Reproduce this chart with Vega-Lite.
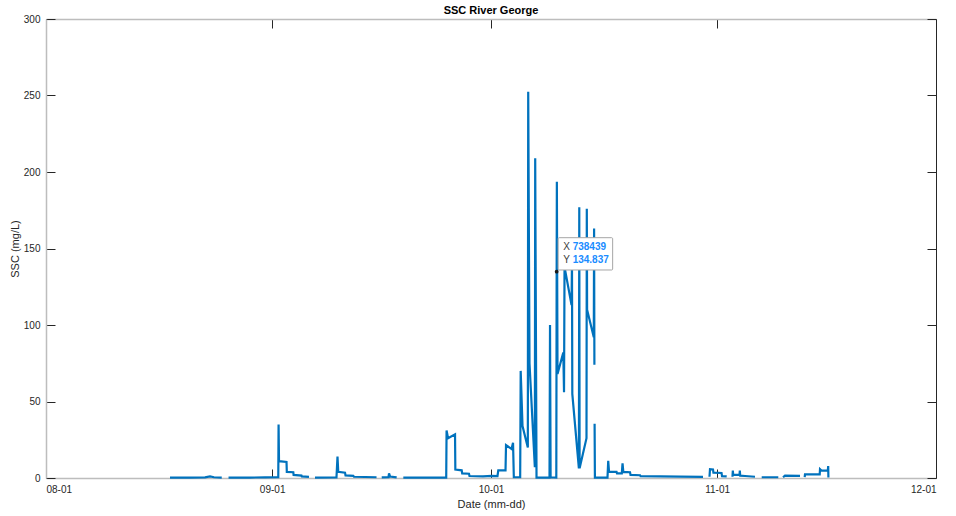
{
  "$schema": "https://vega.github.io/schema/vega-lite/v6.json",
  "width": 890,
  "height": 459,
  "autosize": "none",
  "padding": {"left": 46, "top": 19, "right": 20, "bottom": 38},
  "background": "white",
  "title": {"text": "SSC River George", "font": "Liberation Sans", "fontSize": 11, "fontWeight": "bold", "color": "#000000", "offset": -2},
  "config": {
    "view": {"stroke": null},
    "axis": {
      "labelFont": "Liberation Sans", "titleFont": "Liberation Sans",
      "labelFontSize": 10, "titleFontSize": 11, "titleFontWeight": "normal",
      "labelColor": "#262626", "titleColor": "#262626",
      "grid": false, "tickColor": "#262626", "tickSize": -9,
      "domainColor": "#bdbdbd", "domainWidth": 1.5
    }
  },
  "datasets": {
    "ssc": [
      {"t": "2021-08-18T00:00", "v": 0.2},
      {"t": "2021-08-20T17:45", "v": 0.3},
      {"t": "2021-08-22T19:10", "v": 0.4},
      {"t": "2021-08-23T11:35", "v": 1.0},
      {"t": "2021-08-24T00:45", "v": 0.5},
      {"t": "2021-08-25T02:10", "v": 0.3},
      {"t": "2021-08-25T12:00", "v": null},
      {"t": "2021-08-26T00:30", "v": 0.2},
      {"t": "2021-08-28T23:05", "v": 0.3},
      {"t": "2021-08-31T00:30", "v": 0.4},
      {"t": "2021-09-01T20:10", "v": 0.5},
      {"t": "2021-09-01T21:10", "v": 35},
      {"t": "2021-09-01T22:35", "v": 11},
      {"t": "2021-09-02T23:15", "v": 10.5},
      {"t": "2021-09-03T00:15", "v": 4},
      {"t": "2021-09-03T21:35", "v": 3.8},
      {"t": "2021-09-03T22:35", "v": 2},
      {"t": "2021-09-05T00:30", "v": 1.6},
      {"t": "2021-09-05T01:35", "v": 1.0},
      {"t": "2021-09-06T01:10", "v": 0.8},
      {"t": "2021-09-06T10:00", "v": null},
      {"t": "2021-09-06T20:55", "v": 0.3},
      {"t": "2021-09-09T19:40", "v": 0.4},
      {"t": "2021-09-09T23:00", "v": 14},
      {"t": "2021-09-10T01:25", "v": 4},
      {"t": "2021-09-10T23:45", "v": 3.5},
      {"t": "2021-09-11T01:25", "v": 1.7},
      {"t": "2021-09-12T03:05", "v": 1.4},
      {"t": "2021-09-12T05:15", "v": 0.8},
      {"t": "2021-09-15T07:25", "v": 0.5},
      {"t": "2021-09-15T16:00", "v": null},
      {"t": "2021-09-16T00:30", "v": 0.4},
      {"t": "2021-09-16T22:50", "v": 0.5},
      {"t": "2021-09-17T00:30", "v": 3},
      {"t": "2021-09-17T03:50", "v": 1.0},
      {"t": "2021-09-18T01:40", "v": 0.4},
      {"t": "2021-09-18T12:00", "v": null},
      {"t": "2021-09-18T23:30", "v": 0.3},
      {"t": "2021-09-24T20:40", "v": 0.3},
      {"t": "2021-09-24T21:50", "v": 31},
      {"t": "2021-09-25T02:40", "v": 26},
      {"t": "2021-09-26T01:40", "v": 28.5},
      {"t": "2021-09-26T02:40", "v": 5.5},
      {"t": "2021-09-26T23:35", "v": 5},
      {"t": "2021-09-27T01:15", "v": 3},
      {"t": "2021-09-27T23:35", "v": 2.8},
      {"t": "2021-09-28T01:15", "v": 1.3},
      {"t": "2021-09-29T21:40", "v": 1.1},
      {"t": "2021-10-01T02:25", "v": 1.4},
      {"t": "2021-10-01T21:20", "v": 1.3},
      {"t": "2021-10-02T00:00", "v": 5},
      {"t": "2021-10-02T23:45", "v": 5},
      {"t": "2021-10-03T01:25", "v": 21.5},
      {"t": "2021-10-03T19:25", "v": 19},
      {"t": "2021-10-04T00:30", "v": 23},
      {"t": "2021-10-04T03:05", "v": 0.5},
      {"t": "2021-10-05T00:00", "v": 0.5},
      {"t": "2021-10-05T01:40", "v": 70},
      {"t": "2021-10-05T07:40", "v": 34},
      {"t": "2021-10-06T01:10", "v": 20},
      {"t": "2021-10-06T02:25", "v": 252.5},
      {"t": "2021-10-06T06:40", "v": 75},
      {"t": "2021-10-07T00:15", "v": 7},
      {"t": "2021-10-07T01:25", "v": 209},
      {"t": "2021-10-07T05:45", "v": 0.3},
      {"t": "2021-10-09T00:30", "v": 0.3},
      {"t": "2021-10-09T02:10", "v": 100},
      {"t": "2021-10-09T04:05", "v": 0.5},
      {"t": "2021-10-09T22:50", "v": 0.3},
      {"t": "2021-10-10T00:00", "v": 134.837},
      {"t": "2021-10-10T00:40", "v": 193.7},
      {"t": "2021-10-10T02:50", "v": 68},
      {"t": "2021-10-10T21:50", "v": 82},
      {"t": "2021-10-11T00:15", "v": 56},
      {"t": "2021-10-11T01:55", "v": 138},
      {"t": "2021-10-12T01:00", "v": 113},
      {"t": "2021-10-12T02:25", "v": 142},
      {"t": "2021-10-12T03:30", "v": 55},
      {"t": "2021-10-13T01:10", "v": 6.3},
      {"t": "2021-10-13T02:25", "v": 177},
      {"t": "2021-10-13T03:30", "v": 6.3},
      {"t": "2021-10-14T02:10", "v": 26},
      {"t": "2021-10-14T03:10", "v": 176},
      {"t": "2021-10-14T04:10", "v": 110},
      {"t": "2021-10-15T02:10", "v": 92},
      {"t": "2021-10-15T03:10", "v": 163},
      {"t": "2021-10-15T04:10", "v": 74},
      {"t": "2021-10-15T04:30", "v": null},
      {"t": "2021-10-15T04:50", "v": 35.5},
      {"t": "2021-10-15T05:50", "v": 0.3},
      {"t": "2021-10-16T23:15", "v": 0.3},
      {"t": "2021-10-17T01:40", "v": 11.3},
      {"t": "2021-10-17T04:20", "v": 4.1},
      {"t": "2021-10-18T05:00", "v": 4.0},
      {"t": "2021-10-18T06:30", "v": 3},
      {"t": "2021-10-18T22:20", "v": 3},
      {"t": "2021-10-19T00:45", "v": 9.6},
      {"t": "2021-10-19T03:20", "v": 4},
      {"t": "2021-10-20T01:25", "v": 3.8},
      {"t": "2021-10-20T03:00", "v": 2},
      {"t": "2021-10-21T10:20", "v": 1.8},
      {"t": "2021-10-21T12:00", "v": 1.2},
      {"t": "2021-10-24T04:05", "v": 1.0},
      {"t": "2021-10-26T21:50", "v": 0.9},
      {"t": "2021-10-30T01:25", "v": 0.8},
      {"t": "2021-10-30T12:00", "v": null},
      {"t": "2021-10-30T22:50", "v": 0.8},
      {"t": "2021-10-31T00:30", "v": 5.7},
      {"t": "2021-10-31T10:20", "v": 5.5},
      {"t": "2021-10-31T11:45", "v": 3.5},
      {"t": "2021-11-01T14:25", "v": 3.3},
      {"t": "2021-11-01T16:05", "v": 1.2},
      {"t": "2021-11-02T07:25", "v": 1.0},
      {"t": "2021-11-02T20:00", "v": null},
      {"t": "2021-11-03T02:25", "v": 0.8},
      {"t": "2021-11-03T03:35", "v": 4.8},
      {"t": "2021-11-03T04:50", "v": 2},
      {"t": "2021-11-04T01:40", "v": 2},
      {"t": "2021-11-04T02:35", "v": 4.8},
      {"t": "2021-11-04T03:50", "v": 1.5},
      {"t": "2021-11-04T19:40", "v": 1.3},
      {"t": "2021-11-06T04:35", "v": 0.8},
      {"t": "2021-11-06T12:00", "v": null},
      {"t": "2021-11-07T02:35", "v": 0.5},
      {"t": "2021-11-09T09:10", "v": 0.5},
      {"t": "2021-11-09T18:00", "v": null},
      {"t": "2021-11-10T00:45", "v": 0.5},
      {"t": "2021-11-10T07:10", "v": 1.6},
      {"t": "2021-11-12T08:40", "v": 1.4},
      {"t": "2021-11-12T18:00", "v": null},
      {"t": "2021-11-13T00:00", "v": 0.5},
      {"t": "2021-11-13T01:00", "v": 2.4},
      {"t": "2021-11-15T01:25", "v": 2.4},
      {"t": "2021-11-15T02:25", "v": 5.7},
      {"t": "2021-11-15T07:15", "v": 4.8},
      {"t": "2021-11-16T04:05", "v": 4.8},
      {"t": "2021-11-16T05:20", "v": 7.8},
      {"t": "2021-11-16T06:00", "v": 0.3}
    ],
    "tip": [
      {"t": "2021-10-10T00:00", "v": 134.837, "xval": "738439", "yval": "134.837"}
    ]
  },
  "layer": [
    {
      "data": {"name": "ssc"},
      "mark": {"type": "line", "color": "#0072BD", "strokeWidth": 2.2, "invalid": "break-paths-show-domains"},
      "encoding": {
        "x": {
          "field": "t", "type": "temporal",
          "scale": {"domain": [{"year": 2021, "month": 8, "date": 1}, {"year": 2021, "month": 12, "date": 1}]},
          "axis": {
            "orient": "bottom", "title": "Date (mm-dd)", "format": "%m-%d", "labelPadding": 15, "titlePadding": 4,
            "values": [{"year": 2021, "month": 8, "date": 1}, {"year": 2021, "month": 9, "date": 1}, {"year": 2021, "month": 10, "date": 1}, {"year": 2021, "month": 11, "date": 1}, {"year": 2021, "month": 12, "date": 1}]
          }
        },
        "y": {
          "field": "v", "type": "quantitative",
          "scale": {"domain": [0, 300], "nice": false, "zero": true},
          "axis": {"orient": "left", "title": "SSC (mg/L)", "values": [0, 50, 100, 150, 200, 250, 300], "labelPadding": 15, "titlePadding": 3}
        }
      }
    },
    {
      "data": {"name": "tip"},
      "mark": {"type": "rect", "fill": "#ffffff", "stroke": "#a6a6a6", "strokeWidth": 1, "cornerRadius": 1, "xOffset": 1.5, "x2Offset": 56, "yOffset": -1.7, "y2Offset": -34},
      "encoding": {
        "x": {"field": "t", "type": "temporal", "axis": null},
        "x2": {"field": "t"},
        "y": {"field": "v", "type": "quantitative", "axis": null},
        "y2": {"field": "v"}
      }
    },
    {
      "data": {"name": "tip"},
      "mark": {"type": "text", "text": "X", "align": "left", "baseline": "middle", "dx": 6.6, "dy": -24.7, "font": "Liberation Sans", "fontSize": 10, "color": "#404040"},
      "encoding": {
        "x": {"field": "t", "type": "temporal", "axis": null},
        "y": {"field": "v", "type": "quantitative", "axis": null}
      }
    },
    {
      "data": {"name": "tip"},
      "mark": {"type": "text", "text": "Y", "align": "left", "baseline": "middle", "dx": 6.6, "dy": -11.2, "font": "Liberation Sans", "fontSize": 10, "color": "#404040"},
      "encoding": {
        "x": {"field": "t", "type": "temporal", "axis": null},
        "y": {"field": "v", "type": "quantitative", "axis": null}
      }
    },
    {
      "data": {"name": "tip"},
      "mark": {"type": "text", "align": "left", "baseline": "middle", "dx": 16, "dy": -24.7, "font": "Liberation Sans", "fontSize": 10, "fontWeight": "bold", "color": "#1a8cff"},
      "encoding": {
        "x": {"field": "t", "type": "temporal", "axis": null},
        "y": {"field": "v", "type": "quantitative", "axis": null},
        "text": {"field": "xval"}
      }
    },
    {
      "data": {"name": "tip"},
      "mark": {"type": "text", "align": "left", "baseline": "middle", "dx": 16, "dy": -11.2, "font": "Liberation Sans", "fontSize": 10, "fontWeight": "bold", "color": "#1a8cff"},
      "encoding": {
        "x": {"field": "t", "type": "temporal", "axis": null},
        "y": {"field": "v", "type": "quantitative", "axis": null},
        "text": {"field": "yval"}
      }
    },
    {
      "data": {"name": "tip"},
      "mark": {"type": "point", "filled": true, "color": "#1a1a1a", "size": 14, "opacity": 1},
      "encoding": {
        "x": {
          "field": "t", "type": "temporal",
          "axis": {
            "orient": "top", "labels": false, "title": null,
            "values": [{"year": 2021, "month": 8, "date": 1}, {"year": 2021, "month": 9, "date": 1}, {"year": 2021, "month": 10, "date": 1}, {"year": 2021, "month": 11, "date": 1}, {"year": 2021, "month": 12, "date": 1}]
          }
        },
        "y": {
          "field": "v", "type": "quantitative",
          "axis": {"orient": "right", "labels": false, "title": null, "values": [0, 50, 100, 150, 200, 250, 300], "domainColor": "#262626", "domainWidth": 1}
        }
      }
    }
  ],
  "resolve": {"axis": {"x": "independent", "y": "independent"}}
}
